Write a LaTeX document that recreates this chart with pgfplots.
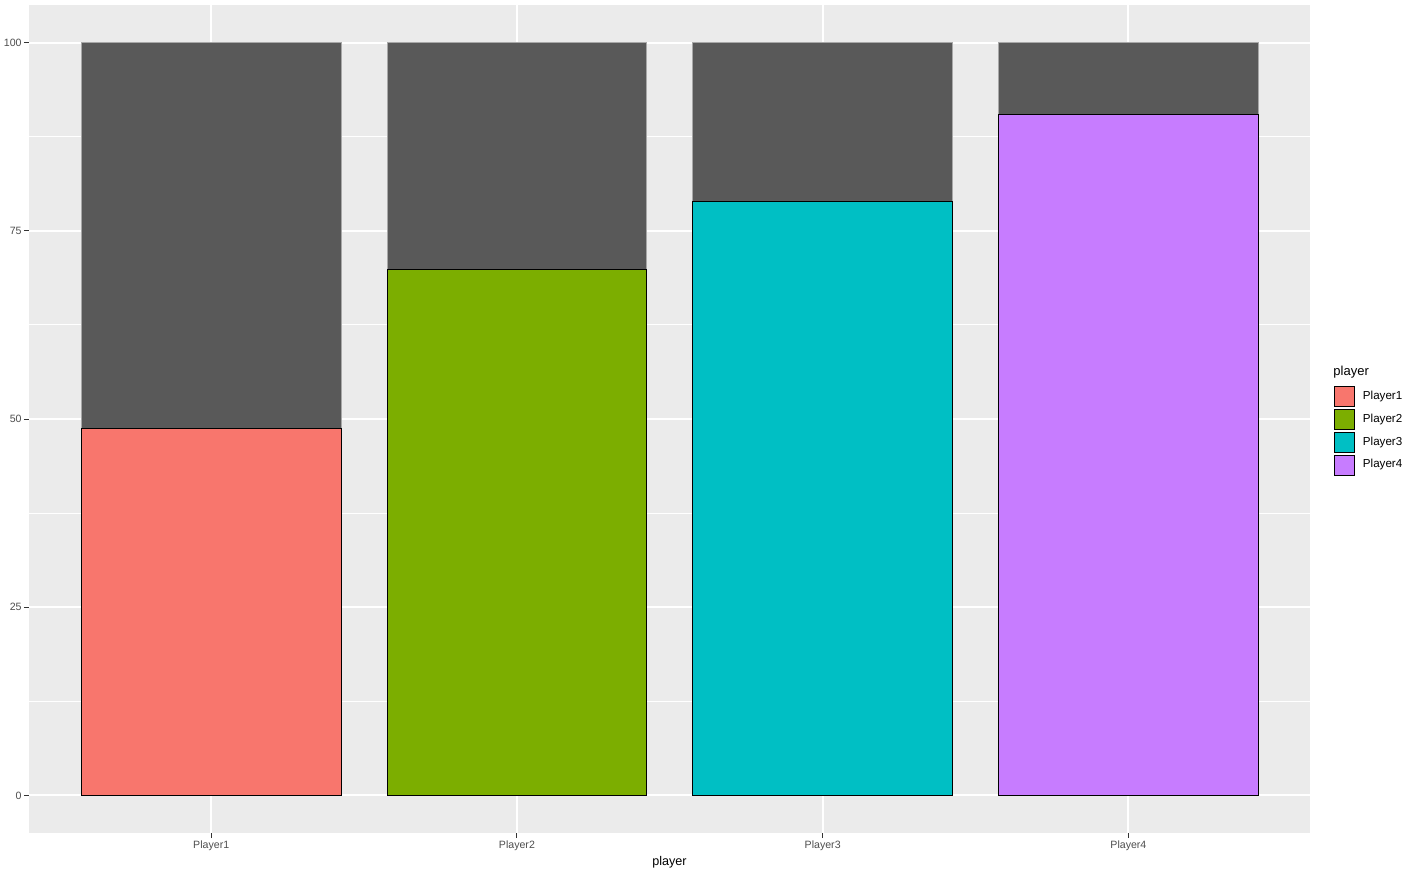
\documentclass[border=0pt]{standalone}
\usepackage{fontspec}
\setmainfont{Liberation Sans}
\usepackage{pgfplots}
\pgfplotsset{compat=1.18}
\definecolor{panel}{HTML}{EBEBEB}
\definecolor{barg}{HTML}{595959}
\definecolor{bordg}{HTML}{A8A8A8}
\definecolor{tickg}{HTML}{333333}
\definecolor{labg}{HTML}{4D4D4D}
\definecolor{c1}{HTML}{F8766D}
\definecolor{c2}{HTML}{7CAE00}
\definecolor{c3}{HTML}{00BFC4}
\definecolor{c4}{HTML}{C77CFF}
\pgfplotsset{
  mybar/.style={ybar, bar width=0.85, bar shift=0pt, draw=black, line width=0.5pt,
    legend image code/.code={\draw[##1, draw=black, line width=0.5pt] (0pt,-5pt) rectangle (10pt,5pt); \path (13.8pt,0pt);}},
}
\begin{document}
\begin{tikzpicture}
\path[use as bounding box] (0,0) rectangle (706pt,437pt);
\begin{axis}[
  at={(14.5pt,20.5pt)}, anchor=south west,
  scale only axis, width=640.5pt, height=414pt,
  xmin=-0.596, xmax=3.594, ymin=-5, ymax=105,
  clip mode=individual,
  xtick={0,1,2,3}, xticklabels={Player1,Player2,Player3,Player4},
  ytick={0,25,50,75,100}, minor ytick={12.5,37.5,62.5,87.5},
  grid=both,
  major grid style={white, line width=1pt},
  minor grid style={white, line width=0.5pt},
  axis background/.style={fill=panel},
  axis line style={draw=none},
  tick align=outside, tick pos=left,
  major tick length=2.5pt, minor tick length=0pt,
  tick style={color=tickg, line width=0.5pt},
  ticklabel style={font=\fontsize{5.3}{6}\selectfont, text=labg, inner sep=1pt},
  /pgf/number format/assume math mode=true,
  xlabel={player},
  xlabel style={at={(axis description cs:0.5,0)}, anchor=center, yshift=-14.5pt, font=\fontsize{6.3}{7}\selectfont},
  legend cell align=left,
  legend style={at={(axis description cs:1.0187,0.540)}, anchor=north west,
    draw=none, fill=none, inner sep=0pt, row sep=0.9pt,
    nodes={inner sep=0pt, font=\fontsize{5.8}{6.5}\selectfont}},
]
\addplot[ybar, bar width=0.85, bar shift=0pt, fill=barg, draw=bordg, line width=0.5pt, forget plot]
  coordinates {(0,100) (1,100) (2,100) (3,100)};
\addplot[mybar, fill=c1] coordinates {(0,48.8)};
\addlegendentry{Player1}
\addplot[mybar, fill=c2] coordinates {(1,69.9)};
\addlegendentry{Player2}
\addplot[mybar, fill=c3] coordinates {(2,78.9)};
\addlegendentry{Player3}
\addplot[mybar, fill=c4] coordinates {(3,90.4)};
\addlegendentry{Player4}
\node[anchor=base west, font=\fontsize{6.5}{7}\selectfont, inner sep=0pt] at (axis description cs:1.018,0.552) {player};
\end{axis}
\end{tikzpicture}
\end{document}
